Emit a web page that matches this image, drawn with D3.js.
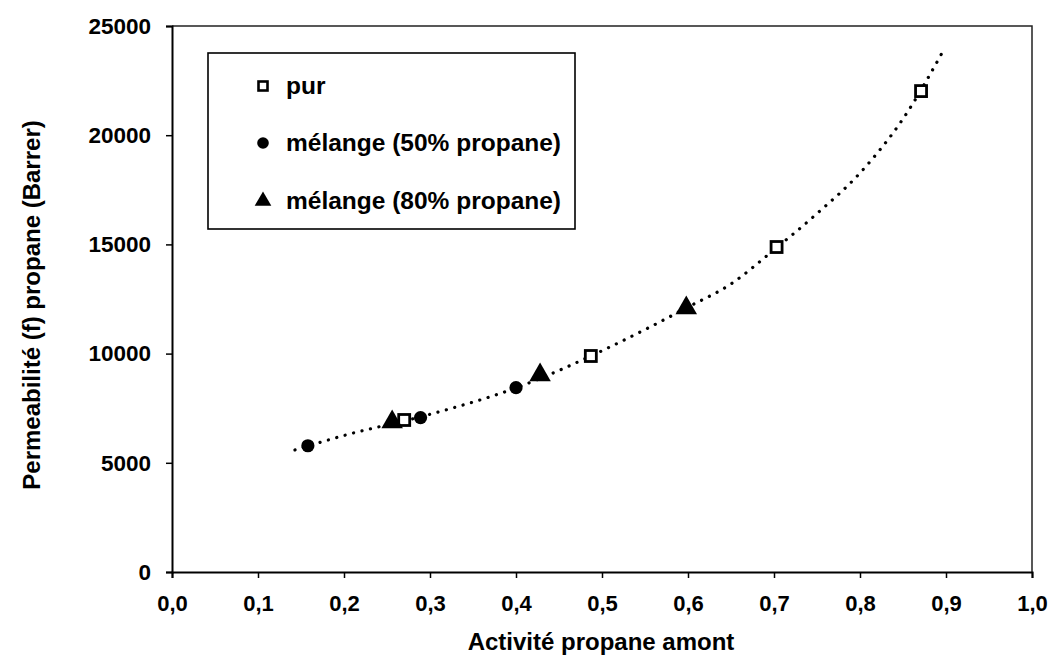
<!DOCTYPE html>
<html><head><meta charset="utf-8">
<script src="https://cdn.jsdelivr.net/npm/d3@7"></script>
<style>
body{margin:0;background:#fff;}
text{font-family:"Liberation Sans",Arial,Helvetica,sans-serif;font-weight:bold;fill:#000;}
</style>
</head><body><svg id="c" width="1056" height="655"></svg>
<script>
// ---- data ----
const xTicks = [0, 0.1, 0.2, 0.3, 0.4, 0.5, 0.6, 0.7, 0.8, 0.9, 1.0];
const yTicks = [0, 5000, 10000, 15000, 20000, 25000];
const purX = [0.270, 0.487, 0.703, 0.871];
const purY = [6960, 9890, 14880, 22020];
const mel50X = [0.158, 0.289, 0.400];
const mel50Y = [5780, 7070, 8440];
const mel80X = [0.256, 0.428, 0.598];
const mel80Y = [6870, 9020, 12090];
const trendX = [0.143, 0.2, 0.3, 0.4, 0.5, 0.55, 0.6, 0.65, 0.7, 0.75, 0.8, 0.85, 0.898];
const trendY = [5590, 6250, 7220, 8430, 10130, 11100, 12130, 13190, 14750, 16410, 18270, 20750, 23950];
const legendLabels = ["pur", "mélange (50% propane)", "mélange (80% propane)"];
const xTitle = "Activité propane amont";
const yTitle = "Permeabilité (f) propane (Barrer)";

const svg = d3.select("#c");
const L = 172, R = 1032, T = 26, B = 572;
const x = d3.scaleLinear().domain([0, 1]).range([L, R]);
const y = d3.scaleLinear().domain([0, 25000]).range([B, T]);

// plot border (top/right)
svg.append("path")
  .attr("d", `M${L},${T}H${R}V${B}`)
  .attr("fill", "none").attr("stroke", "#222").attr("stroke-width", 1.5);

// axes
const xAxis = d3.axisBottom(x).tickValues(xTicks).tickSize(6).tickPadding(17)
  .tickFormat(d => d3.format(".1f")(d).replace(".", ","));
const gx = svg.append("g").attr("transform", `translate(0,${B})`).call(xAxis);
gx.select(".domain").attr("stroke", "#000").attr("stroke-width", 2);
gx.selectAll(".tick line").attr("stroke", "#000").attr("stroke-width", 1.5);
gx.selectAll("text").style("font-size", "22px").attr("fill", "#000");

const yAxis = d3.axisLeft(y).tickValues(yTicks).tickSize(6).tickPadding(15)
  .tickFormat(d3.format("d"));
const gy = svg.append("g").attr("transform", `translate(${L},0)`).call(yAxis);
gy.select(".domain").attr("stroke", "#000").attr("stroke-width", 2);
gy.selectAll(".tick line").attr("stroke", "#000").attr("stroke-width", 1.5);
gy.selectAll("text").style("font-size", "22.5px").attr("fill", "#000");

// axis titles
svg.append("text").attr("x", 601).attr("y", 650)
  .attr("text-anchor", "middle").style("font-size", "24px").text(xTitle);
svg.append("text").attr("transform", `translate(40,305) rotate(-90)`)
  .attr("text-anchor", "middle").style("font-size", "24px").text(yTitle);

// trendline (dotted)
const trend = trendX.map((v, i) => [v, trendY[i]]);
svg.append("path").datum(trend)
  .attr("d", d3.line().x(d => x(d[0])).y(d => y(d[1])).curve(d3.curveMonotoneX))
  .attr("fill", "none").attr("stroke", "#000").attr("stroke-width", 3.2)
  .attr("stroke-linecap", "round").attr("stroke-dasharray", "0.1 8.6");

// markers
const sq = 11, cr = 6.6, tri = 200;
const pur = purX.map((v, i) => [v, purY[i]]);
const m50 = mel50X.map((v, i) => [v, mel50Y[i]]);
const m80 = mel80X.map((v, i) => [v, mel80Y[i]]);

svg.append("g").selectAll("rect").data(pur).join("rect")
  .attr("x", d => x(d[0]) - sq / 2).attr("y", d => y(d[1]) - sq / 2)
  .attr("width", sq).attr("height", sq)
  .attr("fill", "#fff").attr("stroke", "#000").attr("stroke-width", 2.8);
svg.append("g").selectAll("circle").data(m50).join("circle")
  .attr("cx", d => x(d[0])).attr("cy", d => y(d[1])).attr("r", cr).attr("fill", "#000");
const triSym = d3.symbol().type(d3.symbolTriangle).size(tri);
svg.append("g").selectAll("path").data(m80).join("path")
  .attr("transform", d => `translate(${x(d[0])},${y(d[1])})`)
  .attr("d", triSym).attr("fill", "#000");

// legend
const lg = svg.append("g");
lg.append("rect").attr("x", 208).attr("y", 53).attr("width", 367).attr("height", 176)
  .attr("fill", "#fff").attr("stroke", "#000").attr("stroke-width", 1.6);
const ly = [86, 143, 201];
lg.append("rect").attr("x", 263 - 4.5).attr("y", ly[0] - 4.5).attr("width", 9).attr("height", 9)
  .attr("fill", "#fff").attr("stroke", "#000").attr("stroke-width", 2.6);
lg.append("circle").attr("cx", 263).attr("cy", ly[1]).attr("r", 5.8).attr("fill", "#000");
lg.append("path").attr("transform", `translate(263,${ly[2]})`)
  .attr("d", d3.symbol().type(d3.symbolTriangle).size(120)).attr("fill", "#000");
lg.selectAll("text.l").data(legendLabels).join("text").attr("class", "l")
  .attr("x", 286).attr("y", (d, i) => ly[i] + 8)
  .style("font-size", "24.5px").text(d => d);
</script>
</body></html>
